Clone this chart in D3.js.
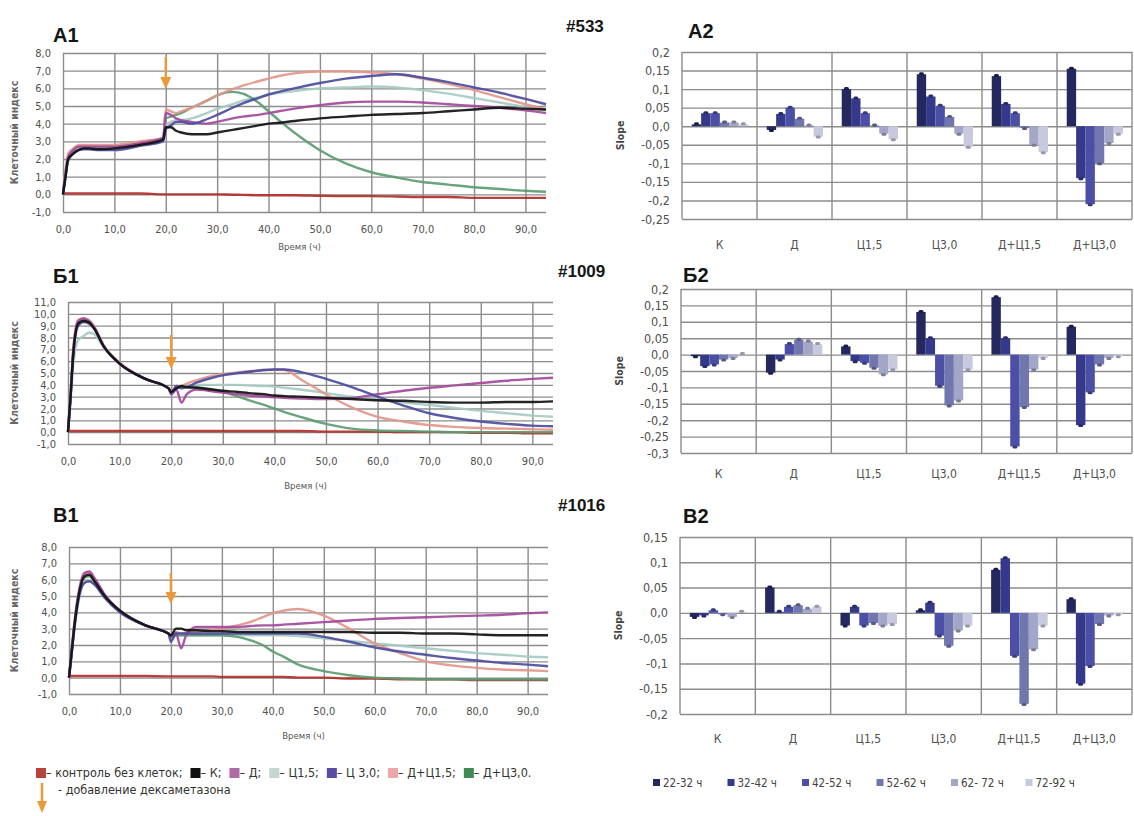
<!DOCTYPE html>
<html>
<head>
<meta charset="utf-8">
<title>Клеточный индекс и Slope</title>
<script src="https://cdn.jsdelivr.net/npm/d3@7"></script>
<style>
  body { margin: 0; background: #fff; }
  text { font-family: "DejaVu Sans Condensed", "DejaVu Sans", sans-serif; fill: #555; }
  .title { font-family: "Liberation Sans", Arial, sans-serif; font-weight: bold; fill: #151515; }
  .grid line { stroke: #8c8c8c; stroke-width: 1.4; }
  .axis text { font-family: "DejaVu Sans Condensed", "DejaVu Sans", sans-serif; fill: #505050; }
  .axis .domain { display: none; }
  .axis line { stroke: #8c8c8c; stroke-width: 1.4; }
</style>
</head>
<body>
<svg id="fig" width="1134" height="816"></svg>
<script>
// ---------- data ----------
var times = [0, 0.5, 1, 2, 3, 4, 5, 7, 10, 15, 19.5, 20, 21, 22, 23, 25, 28, 30, 33, 35, 38, 40, 42, 45, 50, 55, 60, 65, 70, 75, 80, 85, 90, 94];
var xTicks = [0, 10, 20, 30, 40, 50, 60, 70, 80, 90];
var yTicks8 = [-1, 0, 1, 2, 3, 4, 5, 6, 7, 8];
var yTicks11 = [-1, 0, 1, 2, 3, 4, 5, 6, 7, 8, 9, 10, 11];

var seriesNames = ["контроль без клеток", "К", "Д", "Ц1,5", "Ц 3,0", "Д+Ц1,5", "Д+Ц3,0"];
var seriesColors = ["#b0302c", "#111111", "#a44a9c", "#a6cbc3", "#4c4c9e", "#e2968a", "#5c9c72"];
var legendColors = ["#b5453a", "#111111", "#b06aa6", "#c6d6d0", "#5b4ca3", "#eaa8a6", "#3f8a55"];

// #533 (А1)
var a1Control = [0.05, 0.05, 0.05, 0.05, 0.05, 0.05, 0.05, 0.05, 0.05, 0.05, 0, 0, 0, 0, 0, 0, 0, 0, -0.02, -0.03, -0.05, -0.05, -0.05, -0.05, -0.08, -0.1, -0.1, -0.12, -0.15, -0.15, -0.2, -0.2, -0.2, -0.2];
var a1K = [0, 1.0, 2.0, 2.3, 2.5, 2.6, 2.6, 2.55, 2.6, 2.8, 3.1, 3.8, 3.8, 3.6, 3.5, 3.4, 3.4, 3.5, 3.65, 3.75, 3.9, 4.0, 4.05, 4.15, 4.3, 4.4, 4.5, 4.55, 4.6, 4.7, 4.8, 4.9, 4.85, 4.8];
var a1D = [0, 1.2, 2.1, 2.5, 2.7, 2.7, 2.7, 2.7, 2.7, 2.9, 3.2, 4.6, 4.5, 4.3, 4.2, 4.1, 4.0, 4.1, 4.3, 4.4, 4.5, 4.6, 4.7, 4.85, 5.05, 5.2, 5.25, 5.25, 5.2, 5.1, 5.0, 4.9, 4.75, 4.6];
var a1C15 = [0, 1.1, 2.0, 2.4, 2.6, 2.6, 2.6, 2.6, 2.6, 2.8, 3.1, 3.9, 4.1, 4.2, 4.2, 4.3, 4.6, 4.85, 5.1, 5.3, 5.5, 5.65, 5.75, 5.85, 6.0, 6.05, 6.1, 6.05, 5.9, 5.7, 5.45, 5.2, 4.95, 4.75];
var a1C30 = [0, 1.0, 1.9, 2.3, 2.5, 2.55, 2.55, 2.5, 2.5, 2.75, 3.0, 3.7, 3.9, 4.1, 4.1, 4.0, 4.25, 4.5, 4.9, 5.15, 5.45, 5.65, 5.8, 6.0, 6.3, 6.55, 6.7, 6.8, 6.6, 6.35, 6.05, 5.75, 5.4, 5.1];
var a1DC15 = [0, 1.4, 2.3, 2.6, 2.8, 2.8, 2.8, 2.8, 2.8, 3.0, 3.2, 4.8, 4.7, 4.6, 4.7, 4.9, 5.3, 5.6, 5.95, 6.15, 6.4, 6.55, 6.7, 6.85, 6.95, 6.95, 6.9, 6.8, 6.55, 6.25, 5.9, 5.5, 5.1, 4.8];
var a1DC30 = [0, 1.2, 2.1, 2.5, 2.7, 2.7, 2.7, 2.7, 2.7, 2.9, 3.1, 4.3, 4.4, 4.5, 4.6, 4.9, 5.3, 5.6, 5.8, 5.7, 5.2, 4.7, 4.2, 3.5, 2.5, 1.75, 1.25, 0.95, 0.7, 0.55, 0.4, 0.3, 0.2, 0.15];

// #1009 (Б1)
var b1Control = [0.1, 0.1, 0.1, 0.1, 0.1, 0.1, 0.1, 0.1, 0.1, 0.1, 0.1, 0.1, 0.1, 0.1, 0.1, 0.1, 0.1, 0.1, 0.1, 0.1, 0.1, 0.1, 0.1, 0.1, 0.05, 0.05, 0.05, 0.0, 0.0, 0.0, -0.05, -0.05, -0.1, -0.1];
var b1K = [0, 3.0, 6.5, 9.2, 9.4, 9.3, 8.8, 7.2, 5.8, 4.5, 3.7, 3.4, 3.7, 3.9, 3.8, 3.75, 3.6, 3.5, 3.4, 3.3, 3.2, 3.1, 3.05, 3.0, 2.9, 2.8, 2.7, 2.65, 2.55, 2.5, 2.5, 2.55, 2.55, 2.6];
var b1D = [0, 3.2, 6.8, 9.4, 9.6, 9.4, 8.9, 7.2, 5.8, 4.5, 3.7, 3.2, 3.6, 2.5, 3.2, 3.6, 3.45, 3.35, 3.2, 3.1, 3.0, 2.95, 2.9, 2.85, 2.8, 2.9, 3.2, 3.5, 3.75, 3.95, 4.15, 4.35, 4.5, 4.6];
var b1C15 = [0, 2.6, 5.6, 7.8, 8.1, 8.4, 8.3, 7.1, 5.8, 4.5, 3.7, 3.3, 3.7, 3.9, 3.95, 4.0, 4.0, 4.0, 4.0, 3.95, 3.9, 3.85, 3.75, 3.6, 3.3, 3.0, 2.75, 2.5, 2.3, 2.05, 1.8, 1.6, 1.4, 1.3];
var b1C30 = [0, 3.0, 6.4, 9.0, 9.3, 9.2, 8.8, 7.2, 5.8, 4.5, 3.7, 3.3, 3.9, 3.7, 3.8, 4.2, 4.6, 4.8, 5.0, 5.1, 5.25, 5.3, 5.3, 5.1, 4.5, 3.8, 3.0, 2.25, 1.6, 1.2, 0.9, 0.7, 0.55, 0.5];
var b1DC15 = [0, 3.3, 7.0, 9.5, 9.6, 9.5, 9.0, 7.3, 5.9, 4.5, 3.7, 3.5, 3.8, 3.9, 4.1, 4.4, 4.75, 4.9, 5.05, 5.15, 5.25, 5.3, 5.25, 4.5, 3.2, 2.1, 1.3, 0.9, 0.6, 0.45, 0.35, 0.3, 0.25, 0.2];
var b1DC30 = [0, 3.1, 6.6, 9.3, 9.5, 9.3, 8.9, 7.2, 5.8, 4.5, 3.7, 3.4, 3.7, 3.8, 3.85, 3.8, 3.6, 3.4, 3.0, 2.7, 2.3, 2.0, 1.7, 1.3, 0.7, 0.3, 0.15, 0.1, 0.05, 0, 0, 0, 0, 0];

// #1016 (В1)
var c1Control = [0.1, 0.1, 0.1, 0.1, 0.1, 0.1, 0.1, 0.1, 0.1, 0.1, 0.08, 0.08, 0.08, 0.08, 0.08, 0.08, 0.08, 0.05, 0.05, 0.05, 0.05, 0.05, 0.05, 0.0, 0.0, -0.05, -0.05, -0.1, -0.1, -0.1, -0.15, -0.15, -0.15, -0.15];
var c1K = [0, 1.5, 3.0, 5.2, 6.2, 6.3, 5.9, 5.0, 4.1, 3.2, 2.7, 2.6, 3.0, 3.0, 2.9, 2.9, 2.85, 2.85, 2.8, 2.8, 2.8, 2.8, 2.8, 2.8, 2.8, 2.8, 2.75, 2.75, 2.7, 2.7, 2.65, 2.6, 2.6, 2.6];
var c1D = [0, 1.6, 3.2, 5.4, 6.4, 6.5, 6.1, 5.1, 4.1, 3.2, 2.7, 2.5, 2.7, 1.8, 2.6, 3.1, 3.1, 3.1, 3.1, 3.15, 3.2, 3.2, 3.25, 3.3, 3.4, 3.5, 3.6, 3.65, 3.7, 3.75, 3.8, 3.85, 3.95, 4.0];
var c1C15 = [0, 1.4, 2.8, 4.9, 5.8, 5.9, 5.7, 4.9, 4.0, 3.2, 2.7, 2.4, 2.6, 2.6, 2.6, 2.6, 2.6, 2.6, 2.6, 2.6, 2.6, 2.6, 2.6, 2.55, 2.4, 2.25, 2.1, 1.95, 1.8, 1.65, 1.5, 1.4, 1.3, 1.25];
var c1C30 = [0, 1.4, 2.9, 5.0, 5.8, 5.9, 5.7, 4.9, 4.0, 3.2, 2.7, 2.2, 2.7, 2.7, 2.7, 2.7, 2.7, 2.7, 2.7, 2.7, 2.7, 2.7, 2.7, 2.7, 2.5, 2.2, 1.85, 1.6, 1.4, 1.2, 1.05, 0.9, 0.8, 0.7];
var c1DC15 = [0, 1.6, 3.1, 5.3, 6.3, 6.4, 6.0, 5.0, 4.1, 3.2, 2.7, 2.6, 2.8, 2.7, 2.75, 2.8, 2.9, 3.0, 3.2, 3.35, 3.7, 3.95, 4.1, 4.2, 3.8, 3.0, 2.1, 1.5, 1.0, 0.75, 0.6, 0.5, 0.45, 0.4];
var c1DC30 = [0, 1.5, 3.0, 5.2, 6.1, 6.2, 5.9, 5.0, 4.1, 3.2, 2.7, 2.5, 2.6, 2.6, 2.6, 2.6, 2.6, 2.6, 2.5, 2.35, 2.0, 1.6, 1.3, 0.8, 0.4, 0.15, 0.0, -0.05, -0.1, -0.1, -0.1, -0.1, -0.1, -0.1];

// slopes
var categories = ["К", "Д", "Ц1,5", "Ц3,0", "Д+Ц1,5", "Д+Ц3,0"];
var periods = ["22-32 ч", "32-42 ч", "42-52 ч", "52-62 ч", "62- 72 ч", "72-92 ч"];
var periodColors = ["#25275f", "#35398b", "#4b50a6", "#7276ae", "#a4a6c8", "#c8c9de"];
// rows = categories, columns = periods
var slopeA2 = [
  [0.005, 0.035, 0.035, 0.01, 0.01, 0.005],
  [-0.01, 0.033, 0.05, 0.02, 0.002, -0.028],
  [0.1, 0.075, 0.035, 0.002, -0.02, -0.035],
  [0.14, 0.08, 0.055, 0.025, -0.02, -0.055],
  [0.135, 0.06, 0.035, -0.005, -0.05, -0.07],
  [0.155, -0.14, -0.21, -0.1, -0.045, -0.02]
];
var slopeB2 = [
  [-0.005, -0.035, -0.03, -0.015, -0.01, 0.002],
  [-0.055, -0.015, 0.032, 0.045, 0.04, 0.032],
  [0.025, -0.02, -0.025, -0.04, -0.06, -0.045],
  [0.13, 0.05, -0.095, -0.155, -0.14, -0.045],
  [0.175, 0.05, -0.28, -0.16, -0.045, -0.01],
  [0.085, -0.215, -0.115, -0.03, -0.01, -0.005]
];
var slopeC2 = [
  [-0.008, -0.005, 0.005, -0.003, -0.008, 0.002],
  [0.05, 0.002, 0.012, 0.015, 0.008, 0.012],
  [-0.025, 0.012, -0.025, -0.02, -0.025, -0.022],
  [0.005, 0.02, -0.045, -0.065, -0.035, -0.025],
  [0.085, 0.108, -0.085, -0.18, -0.072, -0.025],
  [0.027, -0.14, -0.105, -0.022, -0.005, -0.003]
];
var yTicksA2 = [0.2, 0.15, 0.1, 0.05, 0, -0.05, -0.1, -0.15, -0.2, -0.25];
var yTicksB2 = [0.2, 0.15, 0.1, 0.05, 0, -0.05, -0.1, -0.15, -0.2, -0.25, -0.3];
var yTicksC2 = [0.15, 0.1, 0.05, 0, -0.05, -0.1, -0.15, -0.2];

// ---------- drawing ----------
var svg = d3.select("#fig");

function fmtLine(v) { return v.toFixed(1).replace(".", ","); }
function fmtBar(v) {
  if (Math.abs(v) < 1e-9) return "0,0";
  return String(+v.toFixed(2)).replace(".", ",");
}

function title(txt, x, y, size) {
  svg.append("text").attr("class", "title").attr("x", x).attr("y", y)
    .style("font-size", size + "px").text(txt);
}

function drawArrow(g, x, yA, yB, w) {
  g.append("line").attr("x1", x).attr("x2", x).attr("y1", yA).attr("y2", yB - 8)
    .attr("stroke", "#e89a3c").attr("stroke-width", 2.5);
  g.append("path")
    .attr("d", "M" + (x - w / 2) + "," + (yB - 12) + "L" + (x + w / 2) + "," + (yB - 12) + "L" + x + "," + yB + "Z")
    .attr("fill", "#e89a3c");
}

function drawLinePanel(p) {
  var x = d3.scaleLinear().domain([0, 94]).range([p.x0, p.x1]);
  var y = d3.scaleLinear().domain([p.yMin, p.yMax]).range([p.yBot, p.yTop]);
  var g = svg.append("g");

  g.append("g").attr("class", "axis")
    .attr("transform", "translate(" + p.x0 + ",0)")
    .call(d3.axisLeft(y).tickValues(p.yTicks).tickFormat(fmtLine)
      .tickSizeInner(-(p.x1 - p.x0)).tickSizeOuter(0).tickPadding(12))
    .selectAll("text").style("font-size", "11px");

  g.append("g").attr("class", "axis")
    .attr("transform", "translate(0," + p.yBot + ")")
    .call(d3.axisBottom(x).tickValues(xTicks).tickFormat(fmtLine)
      .tickSizeInner(-(p.yBot - p.yTop)).tickSizeOuter(0).tickPadding(13))
    .selectAll("text").style("font-size", "11px");

  g.append("text").attr("x", (p.x0 + p.x1) / 2 - 5).attr("y", p.labelY)
    .attr("text-anchor", "middle").style("font-size", "9.5px").text("Время (ч)");

  g.append("text")
    .attr("transform", "translate(18," + ((p.yTop + p.yBot) / 2) + ") rotate(-90)")
    .attr("text-anchor", "middle").style("font-size", "10.5px").style("font-weight", "bold")
    .style("fill", "#666").text("Клеточный индекс");

  var line = d3.line().x(d => x(d[0])).y(d => y(d[1])).curve(d3.curveMonotoneX);
  var order = [0, 3, 6, 5, 2, 4, 1];
  order.forEach(function (i) {
    g.append("path")
      .datum(d3.zip(times, p.series[i]))
      .attr("d", line)
      .attr("fill", "none")
      .attr("stroke", seriesColors[i])
      .attr("stroke-width", 2.4)
      .attr("stroke-opacity", 0.92);
  });

  drawArrow(g, x(20), p.arrow[0], p.arrow[1], 11);
}

function drawBarPanel(p) {
  var xc = d3.scaleBand().domain(categories).range([p.x0, p.x1]).padding(0);
  var bw = xc.bandwidth();
  var xp = d3.scaleBand().domain(periods).range([bw * 0.13, bw * 0.88]).padding(0);
  var y = d3.scaleLinear().domain([p.yMin, p.yMax]).range([p.yBot, p.yTop]);
  var g = svg.append("g");

  g.append("g").attr("class", "axis")
    .attr("transform", "translate(" + p.x0 + ",0)")
    .call(d3.axisLeft(y).tickValues(p.yTicks).tickFormat(fmtBar)
      .tickSizeInner(-(p.x1 - p.x0)).tickSizeOuter(0).tickPadding(12))
    .selectAll("text").style("font-size", "12.5px");

  g.append("g").attr("class", "grid").selectAll("line")
    .data(d3.range(categories.length + 1))
    .enter().append("line")
    .attr("x1", i => p.x0 + i * bw).attr("x2", i => p.x0 + i * bw)
    .attr("y1", p.yTop).attr("y2", p.yBot);

  g.append("g").attr("class", "axis")
    .attr("transform", "translate(0," + p.catY + ")")
    .call(d3.axisBottom(xc).tickSize(0).tickPadding(0))
    .selectAll("text").style("font-size", "12px").attr("dy", "0");

  g.append("text")
    .attr("transform", "translate(" + (p.x0 - 58) + "," + ((p.yTop + p.yBot) / 2) + ") rotate(-90)")
    .attr("text-anchor", "middle").style("font-size", "10.5px").style("font-weight", "bold")
    .style("fill", "#444").text("Slope");

  var cat = g.append("g").selectAll("g")
    .data(p.values).enter().append("g")
    .attr("transform", (d, i) => "translate(" + xc(categories[i]) + ",0)");

  var bars = cat.selectAll("g").data(d => d.map((v, j) => ({ v: v, j: j })))
    .enter().append("g");

  bars.append("rect")
    .attr("x", d => xp(periods[d.j]))
    .attr("width", xp.bandwidth())
    .attr("y", d => Math.min(y(d.v), y(0)))
    .attr("height", d => Math.abs(y(d.v) - y(0)))
    .attr("fill", d => periodColors[d.j]);

  // small error caps at bar ends
  bars.append("rect")
    .attr("x", d => xp(periods[d.j]) + xp.bandwidth() / 2 - 2.5)
    .attr("width", 5)
    .attr("y", d => d.v >= 0 ? y(d.v) - 2 : y(d.v) - 1)
    .attr("height", 3)
    .attr("rx", 1.5)
    .attr("fill", d => d3.rgb(periodColors[d.j]).darker(0.8));
}

// titles
title("А1", 53, 42, 20);
title("#533", 566, 32, 17);
title("А2", 688, 38, 20);
title("Б1", 53, 283, 20);
title("#1009", 558, 277, 17);
title("Б2", 683, 282, 20);
title("В1", 53, 522, 20);
title("#1016", 558, 511, 17);
title("В2", 683, 523, 20);

drawLinePanel({ x0: 63, x1: 546, yTop: 53, yBot: 212, yMin: -1, yMax: 8, yTicks: yTicks8, labelY: 250,
  arrow: [57, 89], series: [a1Control, a1K, a1D, a1C15, a1C30, a1DC15, a1DC30] });
drawLinePanel({ x0: 68, x1: 553, yTop: 302, yBot: 444, yMin: -1, yMax: 11, yTicks: yTicks11, labelY: 489,
  arrow: [335, 369], series: [b1Control, b1K, b1D, b1C15, b1C30, b1DC15, b1DC30] });
drawLinePanel({ x0: 69, x1: 548, yTop: 547, yBot: 694, yMin: -1, yMax: 8, yTicks: yTicks8, labelY: 739,
  arrow: [573, 604], series: [c1Control, c1K, c1D, c1C15, c1C30, c1DC15, c1DC30] });

drawBarPanel({ x0: 682, x1: 1132, yTop: 52, yBot: 219, yMin: -0.25, yMax: 0.2, yTicks: yTicksA2, catY: 249, values: slopeA2 });
drawBarPanel({ x0: 681, x1: 1132, yTop: 289, yBot: 453, yMin: -0.3, yMax: 0.2, yTicks: yTicksB2, catY: 478, values: slopeB2 });
drawBarPanel({ x0: 680, x1: 1132, yTop: 537, yBot: 714, yMin: -0.2, yMax: 0.15, yTicks: yTicksC2, catY: 743, values: slopeC2 });

// legend for lines
var lg = svg.append("g");
var lx = 36;
seriesNames.forEach(function (n, i) {
  lg.append("rect").attr("x", lx).attr("y", 768).attr("width", 10).attr("height", 10).attr("fill", legendColors[i]);
  var t = lg.append("text").attr("x", lx + 10).attr("y", 777).style("font-size", "12.5px").style("fill", "#333")
    .text("– " + n + (i === seriesNames.length - 1 ? "." : ";"));
  lx += 10 + t.node().getComputedTextLength() + 8;
});
drawArrow(lg, 42, 783, 813, 10);
lg.append("text").attr("x", 58).attr("y", 794).style("font-size", "12.5px").style("fill", "#333")
  .text("- добавление дексаметазона");

// legend for bars
var bl = svg.append("g");
periods.forEach(function (n, i) {
  var bx = 653 + i * 74.5;
  bl.append("rect").attr("x", bx).attr("y", 779).attr("width", 7).attr("height", 7).attr("fill", periodColors[i]);
  bl.append("text").attr("x", bx + 10).attr("y", 787).style("font-size", "11.5px").style("fill", "#444").text(n);
});
</script>
</body>
</html>
